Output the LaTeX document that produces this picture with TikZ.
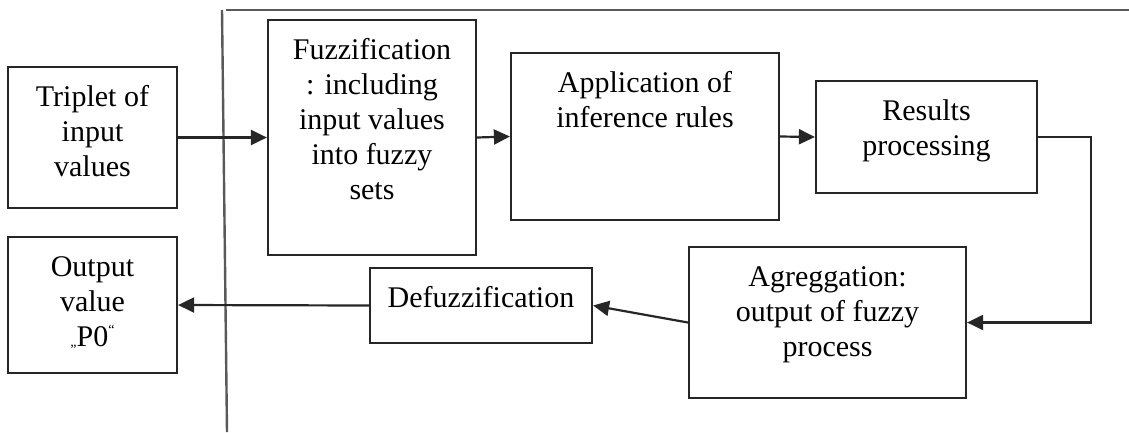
\documentclass[tikz,border=0pt]{standalone}
\usepackage{fontspec}
\setmainfont{Liberation Serif}
\usetikzlibrary{arrows.meta}
\newcommand\btext[3]{\parbox[c][#2pt][t]{#1pt}{\centering\fontsize{30}{35}\selectfont\rule{0pt}{39pt}#3\par}}
\newcommand\smallq[1]{{\fontsize{14}{14}\selectfont #1}}
\begin{document}
\begin{tikzpicture}[x=1pt,y=-1pt,
  blk/.style={draw=black!85,line width=2.2pt,inner sep=0pt,fill=white},
  conn/.style={draw=black!85,line width=2.2pt,-{Triangle[length=16pt,width=15pt]}},
  frame/.style={draw=black!65,line width=2.4pt}]
\useasboundingbox (0,0) rectangle (1129,432);
% frame lines
\coordinate (vt) at (222,10);
\coordinate (vb) at (227,432);
\coordinate (hl) at (226,10);
\coordinate (hr) at (1129,10);
\draw[frame] (vt) -- (vb);
\draw[frame] (hl) -- (hr);
% boxes
\node[blk] (trip) at (92.5,137.5) {\btext{169}{141}{Triplet of\\ input\\ values}};
\node[blk] (out)  at (92.5,305)   {\btext{169}{136}{Output\\ value\\ \smallq{„}P0\raisebox{12pt}{\smallq{“}}}};
\node[blk] (fuzz) at (372,137.5)  {\btext{208}{235}{Fuzzification\\ : including\\ input values\\ into fuzzy\\ sets}};
\node[blk] (app)  at (645,136.5)  {\btext{268}{167}{Application of\\ inference rules}};
\node[blk] (res)  at (926.5,137)  {\btext{221}{112}{Results\\ processing}};
\node[blk] (agg)  at (827.5,322.5){\btext{277}{151}{Agreggation:\\ output of fuzzy\\ process}};
\node[blk] (def)  at (481,305.5)  {\btext{222}{75}{Defuzzification}};
% connectors
\coordinate (c1) at (1091,137);
\coordinate (c2) at (1091,322.5);
\draw[conn] (trip.east) -- (fuzz.west);
\draw[conn] (fuzz.east) -- (app.west);
\draw[conn] (app.east) -- (res.west);
\draw[conn] (res.east) -- (c1) -- (c2) -- (agg.east);
\draw[conn] (agg.west) -- (def.east);
\draw[conn] (def.west) -- (out.east);
\end{tikzpicture}
\end{document}
